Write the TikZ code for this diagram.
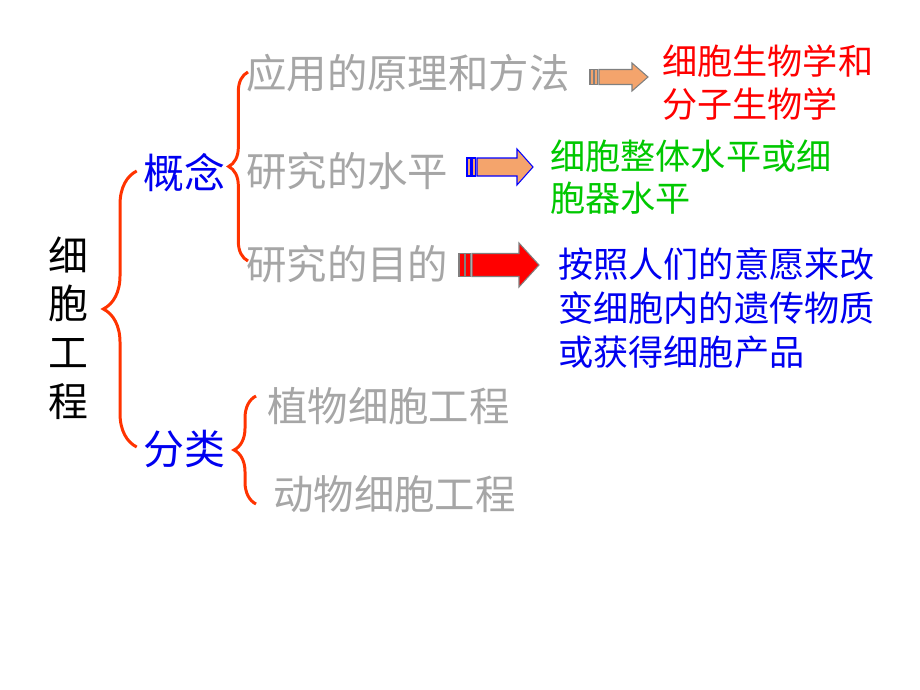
\documentclass[tikz,border=0pt]{standalone}
\usepackage{fontspec}
\newfontfamily\cjk{Noto Sans CJK SC}
\usetikzlibrary{calc,decorations.pathreplacing}
\definecolor{gris}{HTML}{A6A6A6}
\definecolor{saumon}{HTML}{F4A46C}
\definecolor{accent}{HTML}{FF3300}
\definecolor{vert}{HTML}{00C800}
\definecolor{bleu}{HTML}{0000F0}
\tikzset{
	titre/.style={font=\cjk\fontsize{22.7pt}{27.7pt}\selectfont, inner sep=0pt, align=center},
	branche/.style={font=\cjk\fontsize{23.3pt}{26pt}\selectfont, text=bleu, inner sep=0pt},
	feuille/.style={font=\cjk\fontsize{23pt}{26pt}\selectfont, text=gris, inner sep=0pt, anchor=west},
	reponse/.style={font=\cjk\fontsize{20pt}{#1}\selectfont, inner sep=0pt, anchor=west, align=left},
	accolade/.style={draw=accent, line width=1.7pt, decorate, decoration={brace, amplitude=#1}},
	fleche/.style={line width=0.6pt}
}
% fleche pleine : style, x queue, x corps, x tete, x pointe, y, demi-corps, demi-tete
\newcommand{\flechebloc}[8]{%
	\draw[fleche,#1] (#2,#6-#7) rectangle ({(#2+#3)/2-1},#6+#7);
	\draw[fleche,#1] ({(#2+#3)/2},#6-#7) rectangle (#3-1.5,#6+#7);
	\draw[fleche,#1] (#3,#6-#7) -- (#4,#6-#7) -- (#4,#6-#8) -- (#5,#6)
		-- (#4,#6+#8) -- (#4,#6+#7) -- (#3,#6+#7) -- cycle;
}
\begin{document}
\begin{tikzpicture}[x=0.02cm, y=-0.02cm]
			\useasboundingbox[fill=white] (0,0) rectangle (920,690);
			
			% Racine
			\node[titre] (racine) at (68,328) {细\\胞\\工\\程};
			
			% Branches
			\node[branche] (gainian) at (184,173) {概念};
			\node[branche] (fenlei) at (184,449) {分类};
			\draw[accolade=19pt] ($(fenlei.west)+(-6,-2)$) -- ($(gainian.west)+(-6,-2)$);
			
			% Feuilles du concept
			\node[feuille] (yuanli) at (246,73) {应用的原理和方法};
			\node[feuille] (shuiping) at (246,171) {研究的水平};
			\node[feuille] (mudi) at (246,264) {研究的目的};
			\draw[accolade=11pt] ($(mudi.west)+(2,-3)$) -- ($(yuanli.west)+(2,-1)$);
			
			% Feuilles de la classification
			\node[feuille] (zhiwu) at (267,406) {植物细胞工程};
			\node[feuille] (dongwu) at (273,494) {动物细胞工程};
			\draw[accolade=12.5pt] ($(dongwu.west)+(-17,10)$) -- ($(zhiwu.west)+(-11,-10)$);
			
			% Fleches
			\flechebloc{fill=saumon, draw=gray}{590}{599}{632}{648}{77}{7.5}{14}
			\flechebloc{fill=saumon, draw=blue}{467}{477}{517}{533}{167}{9}{18}
			\flechebloc{fill=red, draw=gray}{459}{472}{519}{539}{265}{11.5}{22}
			
			% Reponses
			\node[reponse=24.5pt, text=red] (rep1) at (662,82.5) {细胞生物学和\\分子生物学};
			\node[reponse=23.9pt, text=vert] (rep2) at (550,177) {细胞整体水平或细\\胞器水平};
			\node[reponse=25pt, text=bleu] (rep3) at (558,307.7) {按照人们的意愿来改\\变细胞内的遗传物质\\或获得细胞产品};
		\end{tikzpicture}
\end{document}
